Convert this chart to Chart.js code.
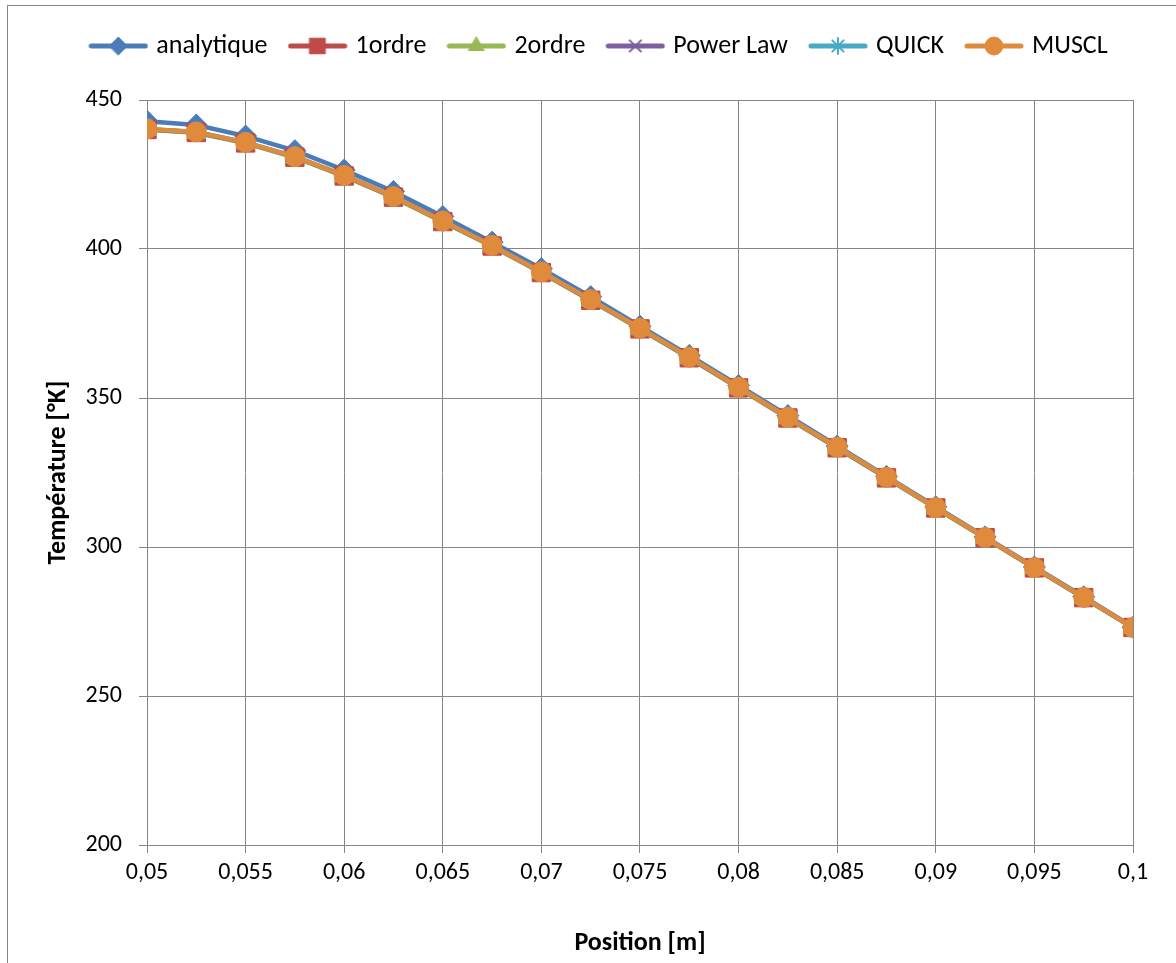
<!DOCTYPE html>
<html>
<head>
<meta charset="utf-8">
<script src="https://cdn.jsdelivr.net/npm/chart.js@4.4.1/dist/chart.umd.min.js"></script>
<style>
  html, body { margin: 0; padding: 0; background: #ffffff; }
  #wrap { width: 1176px; height: 963px; position: relative; }
</style>
</head>
<body>
<div id="wrap"><canvas id="c" width="1176" height="963"></canvas></div>
<script>
// ---- data ----
const positions = [0.05, 0.0525, 0.055, 0.0575, 0.06, 0.0625, 0.065, 0.0675, 0.07, 0.0725, 0.075,
                   0.0775, 0.08, 0.0825, 0.085, 0.0875, 0.09, 0.0925, 0.095, 0.0975, 0.1];
const seriesNames = ['analytique', '1ordre', '2ordre', 'Power Law', 'QUICK', 'MUSCL'];
const analytique = [442.9, 441.6, 437.9, 433.0, 426.5, 419.3, 410.9, 402.3, 393.4, 384.0, 374.1,
                    364.3, 354.2, 344.1, 333.9, 323.7, 313.5, 303.4, 293.3, 283.3, 273.1];
const ordre1     = [440.1, 439.1, 435.6, 430.8, 424.5, 417.4, 409.2, 401.0, 392.1, 382.8, 373.2,
                    363.5, 353.4, 343.3, 333.3, 323.2, 313.1, 303.1, 293.0, 283.0, 273.0];
const ordre2     = [440.0, 439.0, 435.5, 430.7, 424.4, 417.3, 409.1, 400.9, 392.0, 382.7, 373.1,
                    363.4, 353.3, 343.2, 333.2, 323.1, 313.0, 303.0, 292.9, 282.9, 272.9];
const powerLaw   = [440.2, 439.2, 435.7, 430.9, 424.6, 417.5, 409.3, 401.1, 392.2, 382.9, 373.3,
                    363.6, 353.5, 343.4, 333.4, 323.3, 313.2, 303.1, 293.0, 283.0, 273.0];
const quick      = [440.3, 439.3, 435.8, 431.0, 424.7, 417.6, 409.4, 401.2, 392.3, 383.0, 373.4,
                    363.7, 353.6, 343.5, 333.5, 323.4, 313.2, 303.2, 293.1, 283.1, 273.0];
const muscl      = [440.3, 439.3, 435.8, 431.0, 424.7, 417.6, 409.4, 401.2, 392.3, 383.0, 373.4,
                    363.7, 353.6, 343.5, 333.5, 323.4, 313.2, 303.2, 293.1, 283.1, 273.0];
const yTicks = [200, 250, 300, 350, 400, 450];
const xTickValues = [0.05, 0.055, 0.06, 0.065, 0.07, 0.075, 0.08, 0.085, 0.09, 0.095, 0.1];

// ---- styles ----
const colors  = ['#4A7CBA', '#BE4B48', '#98B954', '#7D60A0', '#46AAC5', '#E08A3C'];
const markers = ['rectRot', 'rect', 'triangle', 'crossRot', 'star', 'circle'];
const radii   = [11, 13, 11, 9, 9, 10];
const legendRadii = [9, 11, 9, 8, 8, 9];
const FONT = 'Calibri, Carlito, Lato, sans-serif';
const GRID = '#868686';
const LEGEND_SHIFT = 34;

const allSeries = [analytique, ordre1, ordre2, powerLaw, quick, muscl];
const toPts = arr => positions.map((x, i) => ({ x: x, y: arr[i] }));
const isStroke = m => (m === 'crossRot' || m === 'star');

function legendImage(i) {
  const c = document.createElement('canvas');
  c.width = 60; c.height = 26;
  const g = c.getContext('2d');
  g.strokeStyle = colors[i]; g.fillStyle = colors[i];
  g.lineWidth = 5; g.lineCap = 'round';
  g.beginPath(); g.moveTo(3, 13); g.lineTo(57, 13); g.stroke();
  g.lineWidth = isStroke(markers[i]) ? 2 : 1;
  Chart.helpers.drawPoint(g, {
    pointStyle: markers[i], radius: legendRadii[i], borderWidth: g.lineWidth
  }, 30, 13);
  return c;
}

const datasets = seriesNames.map((name, i) => ({
  label: name,
  data: toPts(allSeries[i]),
  borderColor: colors[i],
  backgroundColor: colors[i],
  borderWidth: 4.5,
  pointStyle: markers[i],
  pointRadius: radii[i],
  pointHoverRadius: radii[i],
  pointBorderWidth: isStroke(markers[i]) ? 2 : 1,
  pointBorderColor: colors[i],
  pointBackgroundColor: colors[i],
  tension: 0,
  order: seriesNames.length - 1 - i
}));

const chartBorder = {
  id: 'chartBorder',
  beforeLayout(chart) {
    const lg = chart.legend;
    if (lg && !lg._fixed) {
      lg._fixed = true;
      const f = lg.fit;
      lg.fit = function () { f.call(this); this.height = 92; };
    }
  },
  afterLayout(chart) {
    const lg = chart.legend;
    if (lg) { lg.left += LEGEND_SHIFT; lg.right += LEGEND_SHIFT; }
  },
  afterDraw(chart) {
    const ctx = chart.ctx;
    ctx.save();
    ctx.strokeStyle = GRID; ctx.lineWidth = 1;
    ctx.strokeRect(7.5, 5.5, 1300, 1300);
    ctx.restore();
  }
};

new Chart(document.getElementById('c'), {
  type: 'line',
  data: { datasets: datasets },
  options: {
    responsive: false,
    animation: false,
    layout: { padding: { top: 8, right: 43, left: 0, bottom: 0 } },
    plugins: {
      tooltip: { enabled: false },
      legend: {
        position: 'top',
        labels: {
          usePointStyle: true,
          pointStyleWidth: 50,
          padding: 25,
          color: '#000',
          font: { family: FONT, size: 26 },
          generateLabels(chart) {
            return chart.data.datasets.map((ds, i) => ({
              text: ds.label,
              pointStyle: legendImage(i),
              fillStyle: colors[i],
              strokeStyle: colors[i],
              lineWidth: 0,
              hidden: false,
              datasetIndex: i
            }));
          }
        }
      }
    },
    scales: {
      x: {
        type: 'linear',
        min: 0.05, max: 0.1,
        afterFit(s) { s.height = 118; },
        afterBuildTicks(s) { s.ticks = xTickValues.map(v => ({ value: v })); },
        ticks: {
          autoSkip: false, maxRotation: 0, padding: 6, color: '#000',
          font: { family: FONT, size: 24 },
          callback: v => String(Math.round(v * 10000) / 10000).replace('.', ',')
        },
        grid: { color: GRID, lineWidth: 1, tickLength: 8, drawTicks: true },
        border: { color: GRID, width: 1 },
        title: { display: true, text: 'Position [m]', color: '#000',
                 font: { family: FONT, size: 26, weight: 'bold' }, padding: { top: 0, bottom: 4 } }
      },
      y: {
        min: 200, max: 450,
        afterFit(s) { s.width = 147; },
        afterBuildTicks(s) { s.ticks = yTicks.map(v => ({ value: v })); },
        ticks: { padding: 17, color: '#000', font: { family: FONT, size: 24 } },
        grid: { color: GRID, lineWidth: 1, tickLength: 8, drawTicks: true },
        border: { color: GRID, width: 1 },
        title: { display: true, text: 'Température [°K]', color: '#000',
                 font: { family: FONT, size: 26, weight: 'bold' }, padding: { top: 43, bottom: 0 } }
      }
    }
  },
  plugins: [chartBorder]
});
</script>
</body>
</html>
